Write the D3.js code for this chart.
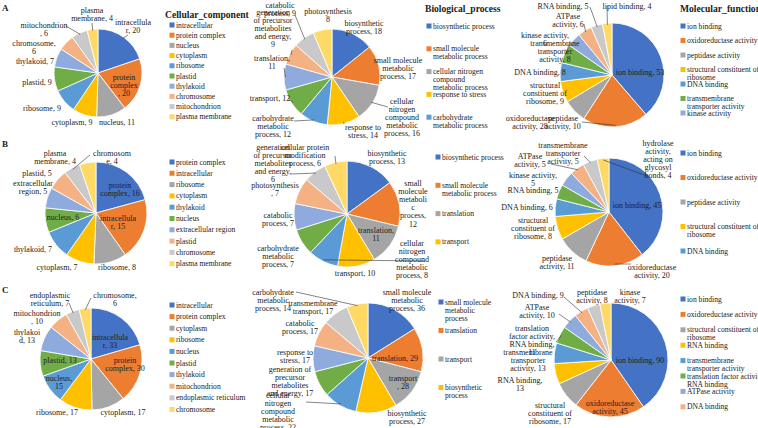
<!DOCTYPE html>
<html><head><meta charset="utf-8">
<script src="https://cdn.jsdelivr.net/npm/d3@7"></script>
<style>
body{margin:0;background:#fff}
svg{display:block}
text{font-family:"Liberation Serif","Times New Roman",serif;fill:#222}
</style>
</head><body>
<svg id="chart" width="758" height="428"></svg>
<script>
// ---------------- DATA ----------------
const rowLetters = ["A", "B", "C"];
const columnTitles = ["Cellular_component", "Biological_process", "Molecular_function"];

const ccA_categories = ["intracellular","protein complex","nucleus","cytoplasm","ribosome","plastid","thylakoid","chromosome","mitochondrion","plasma membrane"];
const ccA_values = [20,20,11,9,9,9,7,6,6,4];

const bpA_categories = ["biosynthetic process","small molecule metabolic process","cellular nitrogen compound metabolic process","response to stress","carbohydrate metabolic process","transport","translation","generation of precursor metabolites and energy","catabolic process","photosynthesis"];
const bpA_values = [18,17,16,14,12,12,11,9,9,8];

const mfA_categories = ["ion binding","oxidoreductase activity","peptidase activity","structural constituent of ribosome","DNA binding","transmembrane transporter activity","kinase activity","ATPase activity","RNA binding","lipid binding"];
const mfA_values = [53,28,10,9,8,8,6,6,5,4];

const ccB_categories = ["protein complex","intracellular","ribosome","cytoplasm","thylakoid","nucleus","extracellular region","plastid","chromosome","plasma membrane"];
const ccB_values = [16,15,8,7,7,6,5,5,4,4];

const bpB_categories = ["biosynthetic process","small molecule metabolic process","translation","transport","cellular nitrogen compound metabolic process","carbohydrate metabolic process","catabolic process","photosynthesis","generation of precursor metabolites and energy","cellular protein modification process"];
const bpB_values = [13,12,11,10,8,7,7,7,6,6];

const mfB_categories = ["ion binding","oxidoreductase activity","peptidase activity","structural constituent of ribosome","DNA binding","RNA binding","kinase activity","ATPase activity","transmembrane transporter activity","hydrolase activity, acting on glycosyl bonds"];
const mfB_values = [45,20,11,8,6,5,5,5,5,4];

const ccC_categories = ["intracellular","protein complex","cytoplasm","ribosome","nucleus","plastid","thylakoid","mitochondrion","endoplasmic reticulum","chromosome"];
const ccC_values = [33,30,17,17,15,13,13,10,7,6];

const bpC_categories = ["small molecule metabolic process","translation","transport","biosynthetic process","cellular nitrogen compound metabolic process","generation of precursor metabolites and energy","response to stress","catabolic process","transmembrane transport","carbohydrate metabolic process"];
const bpC_values = [36,29,28,27,22,17,17,17,17,14];

const mfC_categories = ["ion binding","oxidoreductase activity","structural constituent of ribosome","RNA binding","transmembrane transporter activity","translation factor activity, RNA binding","ATPase activity","DNA binding","peptidase activity","kinase activity"];
const mfC_values = [90,45,17,13,13,11,10,9,8,7];

// ---------------- STYLE / LAYOUT ----------------
const palette = ["#4472C4","#ED7D31","#A5A5A5","#FFC000","#5B9BD5","#70AD47","#8FAADC","#F4B183","#C9C9C9","#FFD966"];

// label layout: lines ({v} = value), offset of first line from pie centre, optional leader start offset
const labA_cc = [
  {t:["intracellula","r, {v}"], o:[35,-51], l:[30,-38]},
  {t:["protein","complex",", {v}"], o:[26,4]},
  {t:["nucleus, {v}"], o:[19,49]},
  {t:["cytoplasm, {v}"], o:[-26,49]},
  {t:["ribosome, {v}"], o:[-56,35]},
  {t:["plastid, {v}"], o:[-61,9]},
  {t:["thylakoid, {v}"], o:[-63,-12]},
  {t:["chromosome,","{v}"], o:[-64,-30]},
  {t:["mitochondrion",", {v}"], o:[-54,-48], l:[-32,-47]},
  {t:["plasma","membrane, {v}"], o:[-6,-63], l:[-6,-50]}
];
const labA_bp = [
  {t:["biosynthetic","process, {v}"], o:[32,-54]},
  {t:["small molecule","metabolic","process, {v}"], o:[66,-17]},
  {t:["cellular","nitrogen","compound","metabolic","process, {v}"], o:[70,24], l:[56,30]},
  {t:["response to","stress, {v}"], o:[31,50], l:[12,47]},
  {t:["carbohydrate","metabolic","process, {v}"], o:[-59,41], l:[-38,44]},
  {t:["transport, {v}"], o:[-62,21], l:[-44,21]},
  {t:["translation,","{v}"], o:[-60,-19], l:[-48,-9]},
  {t:["generation","of precursor","metabolites","and energy,","{v}"], o:[-59,-65], l:[-40,-27]},
  {t:["catabolic","process, {v}"], o:[-52,-72], l:[-37,-62]},
  {t:["photosynthesis","{v}"], o:[-4,-66]}
];
const labA_mf = [
  {t:["ion binding, {v}"], o:[28,-3]},
  {t:["oxidoreductase","activity, {v}"], o:[-82,43], l:[-30,47]},
  {t:["peptidase","activity, {v}"], o:[-49,43]},
  {t:["structural","constituent of","ribosome, {v}"], o:[-67,10]},
  {t:["DNA binding, {v}"], o:[-72,-3]},
  {t:["transmembrane","transporter","activity, {v}"], o:[-57,-32], l:[-42,-34]},
  {t:["kinase activity,","{v}"], o:[-67,-40]},
  {t:["ATPase","activity, {v}"], o:[-44,-59], l:[-28,-51]},
  {t:["RNA binding, {v}"], o:[-49,-69], l:[-22,-68]},
  {t:["lipid binding, {v}"], o:[15,-69], l:[-5,-69]}
];
const labB_cc = [
  {t:["protein","complex, {v}"], o:[24,-28]},
  {t:["intracellula","r, {v}"], o:[22,5]},
  {t:["ribosome, {v}"], o:[21,54]},
  {t:["cytoplasm, {v}"], o:[-39,54]},
  {t:["thylakoid, {v}"], o:[-63,36]},
  {t:["nucleus, {v}"], o:[-33,4]},
  {t:["extracellular","region, {v}"], o:[-63,-30]},
  {t:["plastid, {v}"], o:[-59,-40]},
  {t:["chromosom","e, {v}"], o:[16,-60], l:[-6,-58]},
  {t:["plasma","membrane, {v}"], o:[-41,-60]}
];
const labB_bp = [
  {t:["biosynthetic","process, {v}"], o:[40,-61]},
  {t:["small","molecule","metaboli","c","process,","{v}"], o:[66,-31]},
  {t:["translation,","{v}"], o:[29,16]},
  {t:["transport, {v}"], o:[8,59]},
  {t:["cellular","nitrogen","compound","metabolic","process, {v}"], o:[65,29], l:[78,47]},
  {t:["carbohydrate","metabolic","process, {v}"], o:[-69,34]},
  {t:["catabolic","process, {v}"], o:[-69,1]},
  {t:["photosynthesis",", {v}"], o:[-72,-29]},
  {t:["generation","of precursor","metabolites","and energy,","{v}"], o:[-74,-67], l:[-56,-40]},
  {t:["cellular protein","modification","process, {v}"], o:[-42,-67], l:[-12,-58]}
];
const labB_mf = [
  {t:["ion binding, {v}"], o:[28,-7]},
  {t:["oxidoreductase","activity, {v}"], o:[43,55], l:[22,52]},
  {t:["peptidase","activity, {v}"], o:[-52,46]},
  {t:["structural","constituent of","ribosome, {v}"], o:[-76,8]},
  {t:["DNA binding, {v}"], o:[-82,-5]},
  {t:["RNA binding, {v}"], o:[-76,-22]},
  {t:["kinase activity,","{v}"], o:[-76,-37]},
  {t:["ATPase","activity, {v}"], o:[-79,-56], l:[-58,-48]},
  {t:["transmembrane","transporter","activity, {v}"], o:[-46,-67], l:[-25,-56]},
  {t:["hydrolase","activity,","acting on","glycosyl","bonds, {v}"], o:[49,-69], l:[38,-36]}
];
const labC_cc = [
  {t:["intracellula","r, {v}"], o:[19,-22]},
  {t:["protein","complex, {v}"], o:[34,1]},
  {t:["cytoplasm, {v}"], o:[32,53]},
  {t:["ribosome, {v}"], o:[-34,53]},
  {t:["nucleus,","{v}"], o:[-32,19]},
  {t:["plastid, {v}"], o:[-31,1]},
  {t:["thylakoi","d, {v}"], o:[-64,-27]},
  {t:["mitochondrion",", {v}"], o:[-54,-46]},
  {t:["endoplasmic","reticulum, {v}"], o:[-41,-64], l:[-22,-56]},
  {t:["chromosome,","{v}"], o:[24,-64], l:[0,-61]}
];
const labC_bp = [
  {t:["small molecule","metabolic","process, {v}"], o:[39,-66]},
  {t:["translation, {v}"], o:[27,0]},
  {t:["transport",", {v}"], o:[35,20]},
  {t:["biosynthetic","process, {v}"], o:[39,55]},
  {t:["cellular","nitrogen","compound","metabolic","process, {v}"], o:[-90,37], l:[-62,44]},
  {t:["generation of","precursor","metabolites","and energy, {v}"], o:[-78,11]},
  {t:["response to","stress, {v}"], o:[-73,-6]},
  {t:["catabolic","process, {v}"], o:[-68,-35]},
  {t:["transmembrane","transport, {v}"], o:[-55,-55]},
  {t:["carbohydrate","metabolic","process, {v}"], o:[-95,-66], l:[-72,-66]}
];
const labC_mf = [
  {t:["ion binding, {v}"], o:[29,0]},
  {t:["oxidoreductase","activity, {v}"], o:[-1,43]},
  {t:["structural","constituent of","ribosome, {v}"], o:[-61,45]},
  {t:["RNA binding,","{v}"], o:[-91,20]},
  {t:["transmembrane","transporter","activity, {v}"], o:[-83,-8]},
  {t:["translation","factor activity,","RNA binding,","{v}"], o:[-79,-32], l:[-55,-18]},
  {t:["ATPase","activity, {v}"], o:[-74,-53], l:[-52,-46]},
  {t:["DNA binding, {v}"], o:[-73,-65], l:[-47,-63]},
  {t:["peptidase","activity, {v}"], o:[-19,-68]},
  {t:["kinase","activity, {v}"], o:[19,-68]}
];

const panels = [
  {cats:ccA_categories, vals:ccA_values, cx:98,  cy:73,  r:44, labels:labA_cc, lg:{x:172,y:25, dy:10.2,n:10,w:200}},
  {cats:bpA_categories, vals:bpA_values, cx:332, cy:77,  r:48, labels:labA_bp, lg:{x:429,y:26, dy:22.8,n:5, w:62}},
  {cats:mfA_categories, vals:mfA_values, cx:612, cy:75,  r:52, labels:labA_mf, lg:{x:683,y:26, dy:14.5,n:7, w:80}},
  {cats:ccB_categories, vals:ccB_values, cx:96,  cy:213, r:51, labels:labB_cc, lg:{x:172,y:162,dy:11.3,n:10,w:200}},
  {cats:bpB_categories, vals:bpB_values, cx:347, cy:214, r:53, labels:labB_bp, lg:{x:438,y:157,dy:28.3,n:4, w:62}},
  {cats:mfB_categories, vals:mfB_values, cx:609, cy:212, r:54, labels:labB_mf, lg:{x:683,y:153,dy:24.5,n:5, w:80}},
  {cats:ccC_categories, vals:ccC_values, cx:91,  cy:359, r:51, labels:labC_cc, lg:{x:172,y:305,dy:11.6,n:10,w:200}},
  {cats:bpC_categories, vals:bpC_values, cx:368, cy:358, r:55, labels:labC_bp, lg:{x:441,y:302,dy:28.5,n:4, w:52}},
  {cats:mfC_categories, vals:mfC_values, cx:611, cy:360, r:57, labels:labC_mf, lg:{x:683,y:299,dy:15.4,n:8, w:80}}
];

// ---------------- DRAW ----------------
const svg = d3.select("#chart");
const LH = 8.2;        // label line height
const LFS = 8;         // label font size
const GFS = 7.6;       // legend font size

// row letters
const letterY = [11, 147, 293];
rowLetters.forEach((L, i) => {
  svg.append("text").attr("x", 2).attr("y", letterY[i]).attr("font-size", 9)
    .attr("font-weight", "bold").text(L);
});
// column titles
[[165,14],[425,8],[680,8]].forEach((p, i) => {
  svg.append("text").attr("x", p[0]).attr("y", p[1]).attr("font-size", 9.6)
    .attr("font-weight", "bold").attr("dominant-baseline", "central").text(columnTitles[i]);
});

// measuring helper for legend wrapping
const meas = svg.append("text").attr("font-size", GFS).attr("visibility", "hidden");
function wrap(str, w) {
  const words = str.split(" ");
  const lines = [];
  let cur = "";
  words.forEach(wd => {
    const test = cur ? cur + " " + wd : wd;
    meas.text(test);
    if (meas.node().getComputedTextLength() > w && cur) { lines.push(cur); cur = wd; }
    else cur = test;
  });
  if (cur) lines.push(cur);
  return lines;
}

panels.forEach(p => {
  const g = svg.append("g").attr("transform", `translate(${p.cx},${p.cy})`);
  const pie = d3.pie().sort(null).value(d => d.v);
  const data = pie(p.cats.map((c, i) => ({c, v: p.vals[i], i})));
  const arc = d3.arc().innerRadius(0).outerRadius(p.r);
  const col = d3.scaleOrdinal().domain(p.cats).range(palette);

  g.selectAll("path.slice").data(data).join("path")
    .attr("class", "slice")
    .attr("d", arc)
    .attr("fill", d => col(d.data.c))
    .attr("stroke", "#fff").attr("stroke-width", 0.8);

  // leader lines
  data.forEach((d, i) => {
    const L = p.labels[i];
    if (!L || !L.l) return;
    const a = (d.startAngle + d.endAngle) / 2;
    const ex = Math.sin(a) * p.r * 0.97, ey = -Math.cos(a) * p.r * 0.97;
    g.append("line").attr("x1", L.l[0]).attr("y1", L.l[1]).attr("x2", ex).attr("y2", ey)
      .attr("stroke", "#333").attr("stroke-width", 0.6);
  });

  // labels
  data.forEach((d, i) => {
    const L = p.labels[i];
    if (!L) return;
    const t = g.append("text").attr("font-size", LFS).attr("text-anchor", "middle");
    L.t.forEach((line, k) => {
      t.append("tspan").attr("x", L.o[0]).attr("y", L.o[1] + k * LH)
        .attr("dominant-baseline", "central")
        .text(line.replace("{v}", d.data.v));
    });
  });

  // legend
  const lg = svg.append("g");
  p.cats.slice(0, p.lg.n).forEach((c, i) => {
    const y = p.lg.y + i * p.lg.dy;
    lg.append("rect").attr("x", p.lg.x - 2.5).attr("y", y - 2.5).attr("width", 5).attr("height", 5)
      .attr("fill", col(c));
    const t = lg.append("text").attr("font-size", GFS);
    wrap(c, p.lg.w).forEach((line, k) => {
      t.append("tspan").attr("x", p.lg.x + 4).attr("y", y + k * 8)
        .attr("dominant-baseline", "central").text(line);
    });
  });
});
meas.remove();
</script>
</body></html>
